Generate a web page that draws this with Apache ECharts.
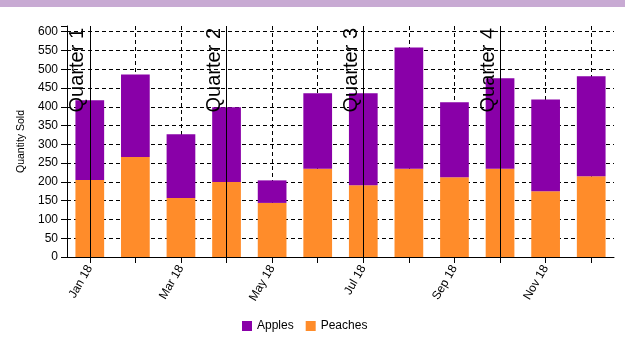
<!DOCTYPE html>
<html>
<head>
<meta charset="utf-8">
<script src="https://cdn.jsdelivr.net/npm/echarts@6/dist/echarts.min.js"></script>
<style>html,body{margin:0;padding:0;background:#fff;}#c{width:625px;height:360px;}</style>
</head>
<body>
<div id="c"></div>
<script>
const months = ['Jan 18','Feb 18','Mar 18','Apr 18','May 18','Jun 18','Jul 18','Aug 18','Sep 18','Oct 18','Nov 18','Dec 18'];
const peaches = [205, 266, 157, 200, 144, 235, 191, 235, 212, 235, 175, 215];
const apples  = [212, 220, 170, 199, 60, 201, 245, 323, 200, 241, 244, 266];
const quarterStarts = ['Jan 18','Apr 18','Jul 18','Oct 18'];
const quarterNames = ['Quarter 1','Quarter 2','Quarter 3','Quarter 4'];
const yTicks = [0,50,100,150,200,250,300,350,400,450,500,550,600];

const font = 'Liberation Sans, Arial, Helvetica, sans-serif';
const chart = echarts.init(document.getElementById('c'), null, {renderer: 'canvas'});
const splitColors = yTicks.map(() => '#000').concat(['rgba(0,0,0,0)']);
chart.setOption({
  animation: false,
  textStyle: {fontFamily: font},
  graphic: [{type: 'rect', left: 0, top: 0, shape: {width: 625, height: 7}, style: {fill: '#c8aad3'}}],
  grid: {left: 67, right: 11, top: 26, bottom: 103},
  legend: {
    data: ['Apples', 'Peaches'], top: 315, left: 237,
    icon: 'rect', itemWidth: 10, itemHeight: 10, itemGap: 12,
    textStyle: {fontSize: 12, color: '#000', fontFamily: font}
  },
  xAxis: {
    type: 'category', data: months,
    axisLine: {lineStyle: {color: '#000'}},
    axisTick: {show: true, interval: 0, alignWithLabel: true, length: 6, lineStyle: {color: '#000'}},
    axisLabel: {interval: 1, rotate: 60, fontSize: 12, color: '#000', margin: 9, fontFamily: font},
    splitLine: {show: true, interval: 0, alignWithLabel: true, lineStyle: {color: '#000', type: [4, 3], width: 1}}
  },
  yAxis: {
    type: 'value', min: 0, max: 615, interval: 50,
    name: 'Quantity Sold', nameLocation: 'middle', nameGap: 40, nameRotate: 90,
    nameTextStyle: {fontSize: 10.5, color: '#000', fontFamily: font},
    axisLine: {show: true, lineStyle: {color: '#000'}},
    axisTick: {show: true, length: 6, lineStyle: {color: '#000'}},
    axisLabel: {fontSize: 12, color: '#000', margin: 9, fontFamily: font,
      formatter: v => (v % 50 === 0 ? String(v) : '')},
    splitLine: {show: true, lineStyle: {color: splitColors, type: [4, 3], width: 1}}
  },
  series: [
    {
      name: 'Peaches', type: 'bar', stack: 'fruit', data: peaches,
      itemStyle: {color: '#ff8c2a'}, barCategoryGap: '37%'
    },
    {
      name: 'Apples', type: 'bar', stack: 'fruit', data: apples,
      itemStyle: {color: '#8900a8'}, barCategoryGap: '37%',
      markLine: {
        silent: true, symbol: 'none', animation: false,
        lineStyle: {color: '#000', type: 'solid', width: 1},
        label: {show: true, position: 'insideEndTop', formatter: '{b}', fontSize: 20, color: '#000', fontFamily: font, distance: 2},
        data: quarterStarts.map((m, i) => ({xAxis: m, name: quarterNames[i]}))
      }
    }
  ]
});
</script>
</body>
</html>
